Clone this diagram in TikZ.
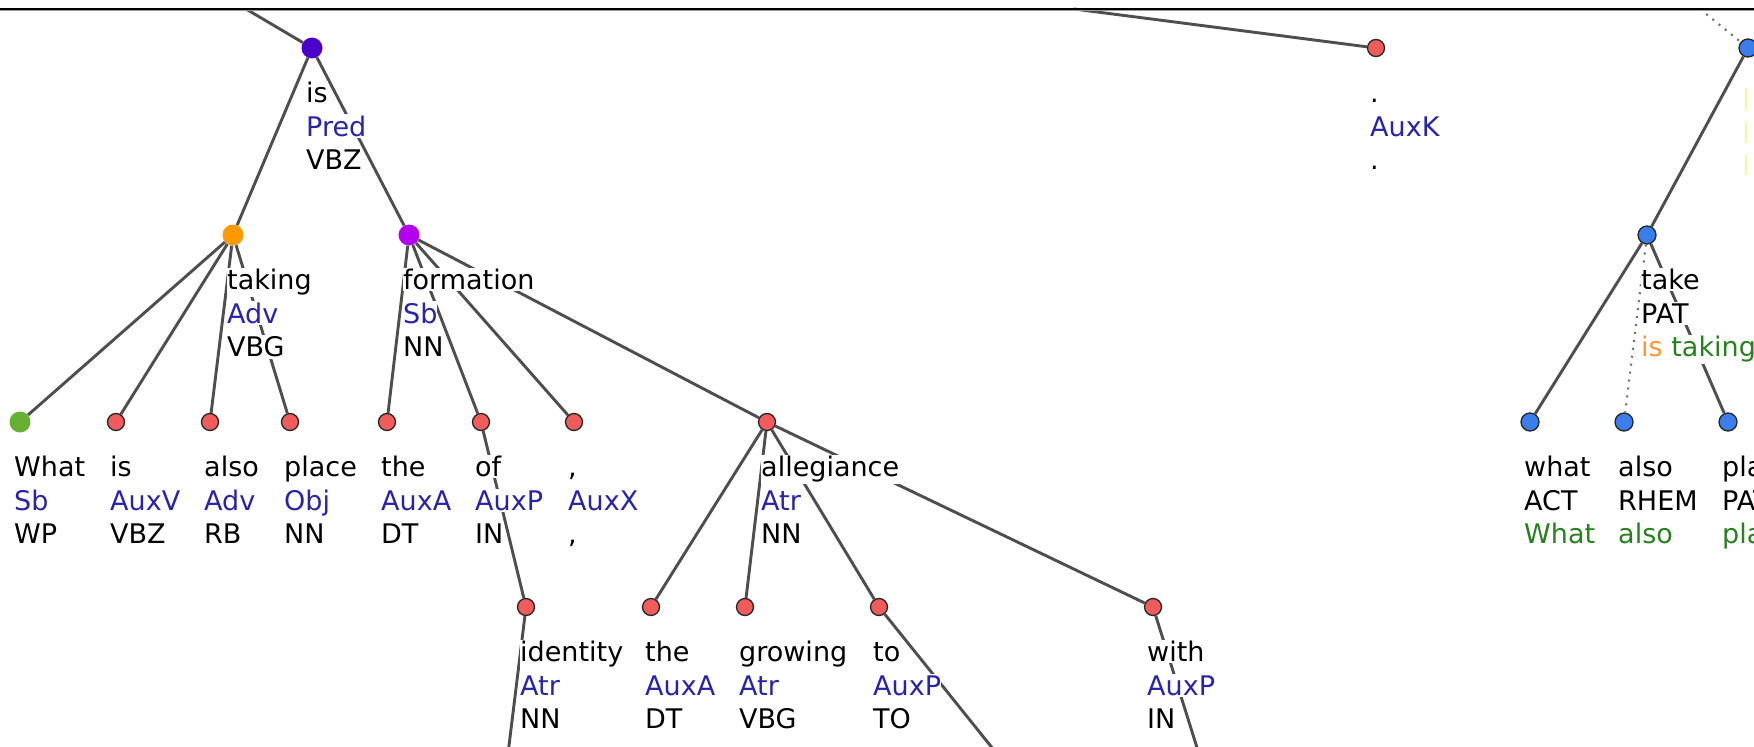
\documentclass[tikz,border=0pt]{standalone}
\usepackage{fontspec}
\setmainfont{DejaVu Sans}
\usetikzlibrary{positioning}

\definecolor{edgegray}{RGB}{78,78,78}
\definecolor{functor}{RGB}{40,36,170}
\definecolor{tgreen}{RGB}{40,128,30}
\definecolor{torange}{RGB}{255,150,50}
\definecolor{predcol}{RGB}{74,0,200}
\definecolor{advcol}{RGB}{255,153,0}
\definecolor{sbcol}{RGB}{180,0,240}
\definecolor{whatcol}{RGB}{102,176,50}
\definecolor{anode}{RGB}{240,92,92}
\definecolor{tnode}{RGB}{58,125,235}
\definecolor{tyellow}{RGB}{255,245,150}

\tikzstyle{big_node} = [circle, minimum size=21bp, inner sep=0pt]
\tikzstyle{a_node} = [circle, minimum size=17bp, inner sep=0pt, fill=anode, draw=black!85, line width=1.3bp]
\tikzstyle{t_node} = [circle, minimum size=18bp, inner sep=0pt, fill=tnode, draw=black!85, line width=1.3bp]
\tikzstyle{edge} = [edgegray, line width=2.9bp]
\tikzstyle{hidden_edge} = [edgegray!80, line width=2.2bp, dash pattern=on 2bp off 6bp]
\tikzstyle{label_line} = [anchor=base west, fill=white, inner xsep=0pt, inner ysep=1.5bp, font=\fontsize{27bp}{33.6bp}\selectfont]

% three text lines under a tree node: form, functor, tag
\newcommand{\wordlabel}[4]{%
 \node (#1_form) [label_line] at ([xshift=-6bp,yshift=-54.6bp]#1.center) {#2};
 \node (#1_func) [label_line] at ([yshift=-33.6bp]#1_form.base west) {#3};
 \node (#1_tag) [label_line] at ([yshift=-33.6bp]#1_func.base west) {#4};
}
\newcommand{\fn}[1]{\textcolor{functor}{#1}}

\begin{document}
\begin{tikzpicture}[x=1bp, y=-1bp]
 \useasboundingbox (0,0) rectangle (1754,747);
 \fill[white] (0,0) rectangle (1754,747);
 \clip (0,0) rectangle (1754,747);

 % analytical tree
 \node (pred_is) [big_node, fill=predcol] at (312,48) {};
 \node (adv_taking) [big_node, fill=advcol] at (233,235) {};
 \node (sb_formation) [big_node, fill=sbcol] at (409,235) {};

 \node (sb_what) [big_node, fill=whatcol] at (20,422) {};
 \node (auxv_is) [a_node] at (116,422) {};
 \node (adv_also) [a_node] at (210,422) {};
 \node (obj_place) [a_node] at (290,422) {};
 \node (auxa_the) [a_node] at (387,422) {};
 \node (auxp_of) [a_node] at (481,422) {};
 \node (auxx_comma) [a_node] at (574,422) {};
 \node (atr_allegiance) [a_node] at (767,422) {};

 \node (atr_identity) [a_node] at (526,607) {};
 \node (auxa_the2) [a_node] at (651,607) {};
 \node (atr_growing) [a_node] at (745,607) {};
 \node (auxp_to) [a_node] at (879,607) {};
 \node (auxp_with) [a_node] at (1153,607) {};

 \node (auxk_period) [a_node] at (1376,48) {};

 % tectogrammatical tree
 \node (t_root) [t_node] at (1748,48) {};
 \node (pat_take) [t_node] at (1647,235) {};
 \node (act_what) [t_node] at (1530,422) {};
 \node (rhem_also) [t_node] at (1624,422) {};
 \node (pat_place) [t_node] at (1728,422) {};

 \coordinate (pred_up) at (246,9);
 \coordinate (auxk_up) at (1074,9);
 \coordinate (t_root_up) at (1700,9);
 \coordinate (identity_down) at (506,770);
 \coordinate (to_down) at (1010,770);
 \coordinate (with_down) at (1204,770);

 \draw [edge] (pred_up) -- (pred_is);
 \draw [edge] (pred_is) -- (adv_taking);
 \draw [edge] (pred_is) -- (sb_formation);

 \draw [edge] (adv_taking) -- (sb_what);
 \draw [edge] (adv_taking) -- (auxv_is);
 \draw [edge] (adv_taking) -- (adv_also);
 \draw [edge] (adv_taking) -- (obj_place);

 \draw [edge] (sb_formation) -- (auxa_the);
 \draw [edge] (sb_formation) -- (auxp_of);
 \draw [edge] (sb_formation) -- (auxx_comma);
 \draw [edge] (sb_formation) -- (atr_allegiance);

 \draw [edge] (auxp_of) -- (atr_identity);
 \draw [edge] (atr_allegiance) -- (auxa_the2);
 \draw [edge] (atr_allegiance) -- (atr_growing);
 \draw [edge] (atr_allegiance) -- (auxp_to);
 \draw [edge] (atr_allegiance) -- (auxp_with);

 \draw [edge] (atr_identity) -- (identity_down);
 \draw [edge] (auxp_to) -- (to_down);
 \draw [edge] (auxp_with) -- (with_down);

 \draw [edge] (auxk_up) -- (auxk_period);

 \draw [hidden_edge] (t_root_up) -- (t_root);
 \draw [edge] (t_root) -- (pat_take);
 \draw [edge] (pat_take) -- (act_what);
 \draw [hidden_edge] (pat_take) -- (rhem_also);
 \draw [edge] (pat_take) -- (pat_place);

 \wordlabel{pred_is}{is}{\fn{Pred}}{VBZ}
 \wordlabel{adv_taking}{taking}{\fn{Adv}}{VBG}
 \wordlabel{sb_formation}{formation}{\fn{Sb}}{NN}
 \wordlabel{sb_what}{What}{\fn{Sb}}{WP}
 \wordlabel{auxv_is}{is}{\fn{AuxV}}{VBZ}
 \wordlabel{adv_also}{also}{\fn{Adv}}{RB}
 \wordlabel{obj_place}{place}{\fn{Obj}}{NN}
 \wordlabel{auxa_the}{the}{\fn{AuxA}}{DT}
 \wordlabel{auxp_of}{of}{\fn{AuxP}}{IN}
 \wordlabel{auxx_comma}{,}{\fn{AuxX}}{,}
 \wordlabel{atr_allegiance}{allegiance}{\fn{Atr}}{NN}
 \wordlabel{atr_identity}{identity}{\fn{Atr}}{NN}
 \wordlabel{auxa_the2}{the}{\fn{AuxA}}{DT}
 \wordlabel{atr_growing}{growing}{\fn{Atr}}{VBG}
 \wordlabel{auxp_to}{to}{\fn{AuxP}}{TO}
 \wordlabel{auxp_with}{with}{\fn{AuxP}}{IN}
 \wordlabel{auxk_period}{.}{\fn{AuxK}}{.}

 \wordlabel{pat_take}{take}{PAT}{\textcolor{torange}{is} \textcolor{tgreen}{taking}}
 \wordlabel{act_what}{what}{ACT}{\textcolor{tgreen}{What}}
 \wordlabel{rhem_also}{also}{RHEM}{\textcolor{tgreen}{also}}
 \wordlabel{pat_place}{place}{PAT}{\textcolor{tgreen}{place}}

 \draw [tyellow, line width=2bp] (1746,88) -- (1746,110) (1746,122) -- (1746,143) (1746,155) -- (1746,175);

 % window frame
 \draw [black!40, line width=1bp] (0,11) -- (1754,11);
 \draw [black, line width=2bp] (0,9) -- (1754,9);

\end{tikzpicture}
\end{document}
